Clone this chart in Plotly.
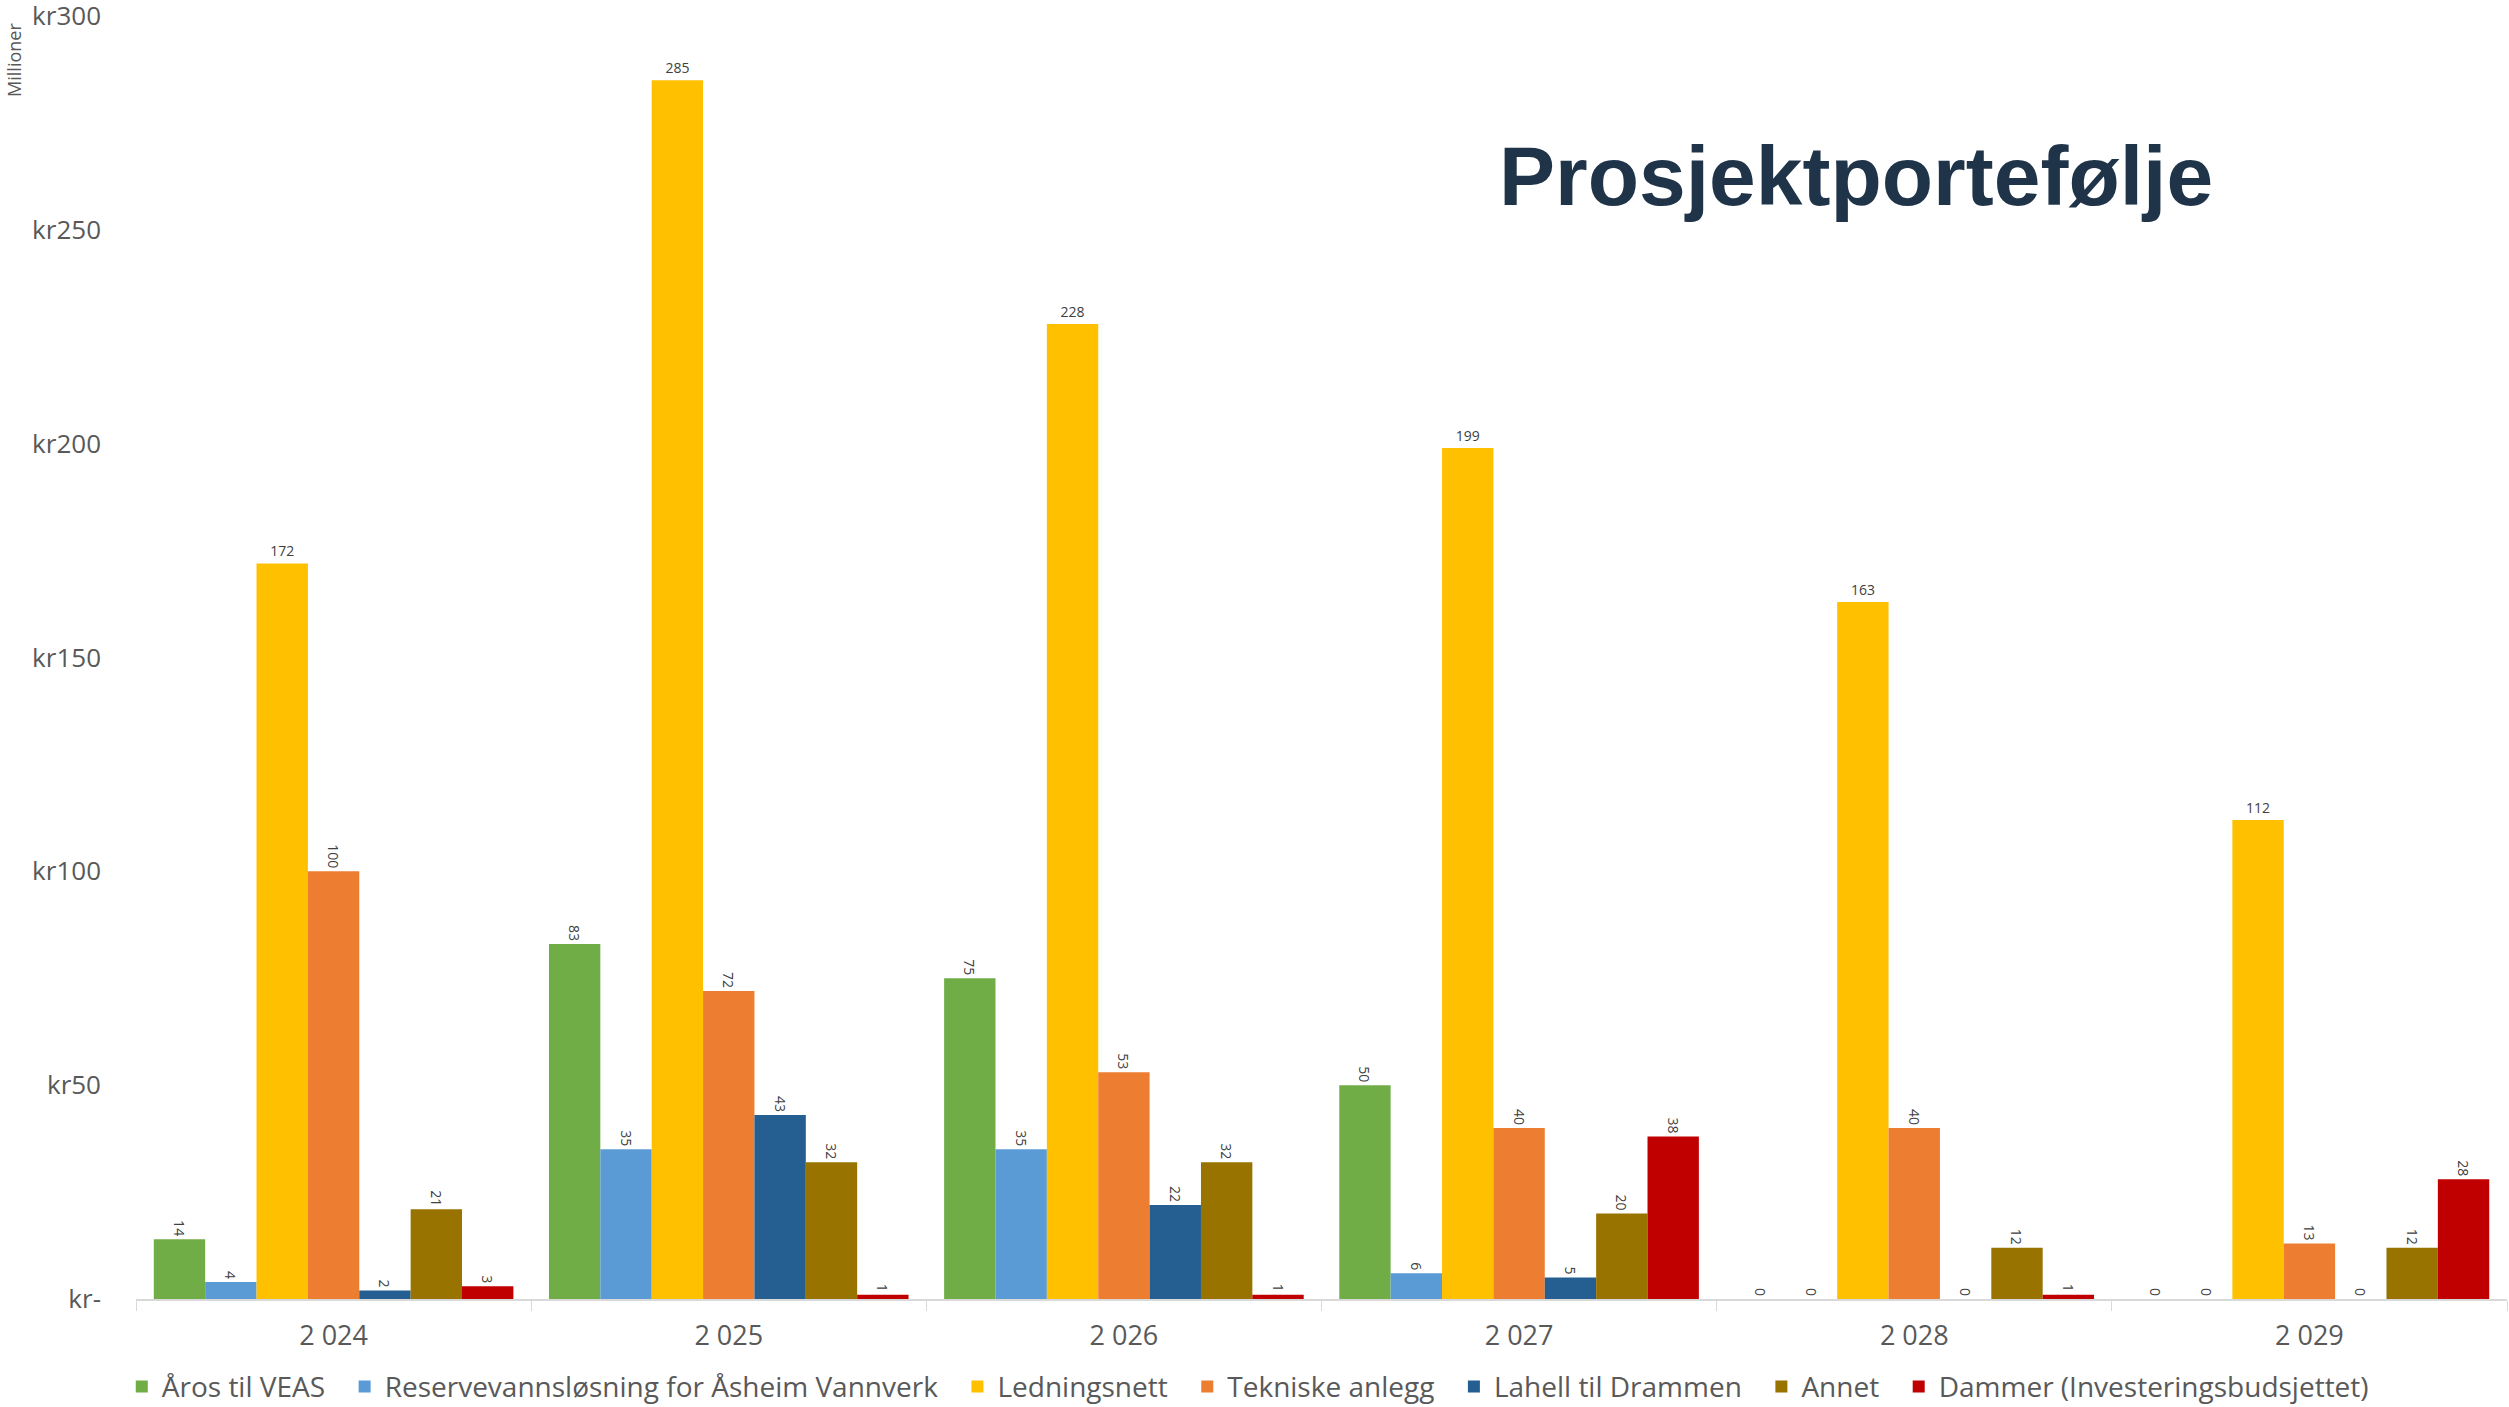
import plotly.graph_objects as go

years = ["2 024", "2 025", "2 026", "2 027", "2 028", "2 029"]

aros_veas = [14, 83, 75, 50, 0, 0]
reservevann = [4, 35, 35, 6, 0, 0]
ledningsnett = [172, 285, 228, 199, 163, 112]
tekniske = [100, 72, 53, 40, 40, 13]
lahell = [2, 43, 22, 5, 0, 0]
annet = [21, 32, 32, 20, 12, 12]
dammer = [3, 1, 1, 38, 1, 28]

series_names = ["Åros til VEAS", "Reservevannsløsning for Åsheim Vannverk", "Ledningsnett",
                "Tekniske anlegg", "Lahell til Drammen", "Annet", "Dammer (Investeringsbudsjettet)"]
series_values = [aros_veas, reservevann, ledningsnett, tekniske, lahell, annet, dammer]
colors = ["#70AD47", "#5B9BD5", "#FFC000", "#ED7D31", "#255E91", "#997300", "#C00000"]
label_angles = [90, 90, 0, 90, 90, 90, 90]

y_tickvals = [0, 50, 100, 150, 200, 250, 300]
y_ticktext = ["kr-", "kr50", "kr100", "kr150", "kr200", "kr250", "kr300"]

FONT = "Open Sans"
NBSP = "\u00a0"
fig = go.Figure()
for name, vals, col, ang in zip(series_names, series_values, colors, label_angles):
    fig.add_trace(go.Bar(
        x=years, y=vals, name=name + NBSP * 2,
        marker=dict(color=col, line=dict(width=0)),
        text=[str(v) for v in vals], textposition="outside", textangle=ang,
        constraintext="none", cliponaxis=False,
        textfont=dict(family=FONT, size=14, color="#404040"),
    ))

fig.update_layout(
    width=2509, height=1407,
    paper_bgcolor="white", plot_bgcolor="white",
    barmode="group", bargap=0.09, bargroupgap=0,
    margin=dict(l=136, r=2, t=16, b=108, autoexpand=False),
    font=dict(family=FONT, color="#595959"),
    showlegend=True,
    legend=dict(orientation="h", x=-0.006, xanchor="left", y=-0.049, yanchor="top",
                font=dict(family=FONT, size=28, color="#595959"),
                itemwidth=30, traceorder="normal"),
    xaxis=dict(showline=True, linecolor="#D9D9D9", linewidth=2,
               ticks="outside", tickson="boundaries", ticklen=10, tickcolor="#D9D9D9",
               tickfont=dict(family=FONT, size=27, color="#595959"), showgrid=False,
               ticklabelstandoff=12),
    yaxis=dict(range=[0, 300], tickvals=y_tickvals, ticktext=y_ticktext,
               showgrid=False, zeroline=False, showline=False, ticklabeloverflow="allow",
               tickfont=dict(family=FONT, size=26, color="#595959"), ticklabelstandoff=34),
    annotations=[
        dict(text="Millioner", xref="paper", yref="paper", x=-0.0574, y=0.9657,
             xanchor="left", yanchor="middle",
             textangle=-90, showarrow=False, font=dict(family=FONT, size=18, color="#595959")),
        dict(text="Prosjektportefølje", xref="paper", yref="paper", x=0.7254, y=0.8753,
             xanchor="center", yanchor="middle", showarrow=False,
             font=dict(family="Liberation Sans", size=84, color="#1F3349", weight="bold")),
    ],
)

fig.write_html("out.html", config={"displayModeBar": False},
               post_script="document.body.style.margin='0';"
                           "document.documentElement.style.overflow='hidden';")
